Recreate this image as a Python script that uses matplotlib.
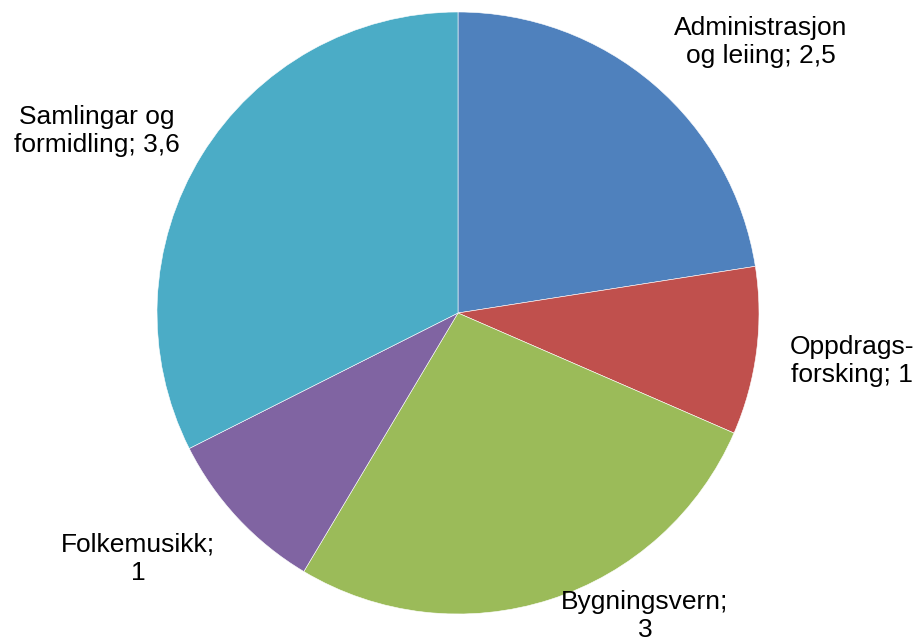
import matplotlib.pyplot as plt

plt.rcParams['font.family'] = ['Liberation Sans', 'DejaVu Sans']

# data
categories = ['Administrasjon\nog leiing', 'Oppdrags-\nforsking', 'Bygningsvern',
              'Folkemusikk', 'Samlingar og\nformidling']
values = [2.5, 1, 3, 1, 3.6]
value_labels = ['2,5', '1', '3', '1', '3,6']
colors = ['#4F81BD', '#C0504D', '#9BBB59', '#8064A2', '#4BACC6']

# label block centres (pixels, origin bottom-left)
label_pos = [(761, 600), (852, 281), (645, 26), (138, 83), (97, 511)]
label_sep = ['; ', '; ', ';\n', ';\n', '; ']

fig = plt.figure(figsize=(9.2, 6.42), dpi=100)
ax = fig.add_axes([0, 0, 1, 1])
ax.axis('off')

ax.pie(values, colors=colors, startangle=90, counterclock=False,
       center=(458, 329), radius=301,
       wedgeprops=dict(edgecolor='white', linewidth=0.4))
ax.set_xlim(0, 920)
ax.set_ylim(0, 642)
ax.set_aspect('equal')

for cat, v, sep, (x, y) in zip(categories, value_labels, label_sep, label_pos):
    ax.text(x, y, cat + sep + v, ha='center', va='center', ma='center',
            fontsize=19, color='black', linespacing=1.22)

fig.savefig('out.png', dpi=100)
